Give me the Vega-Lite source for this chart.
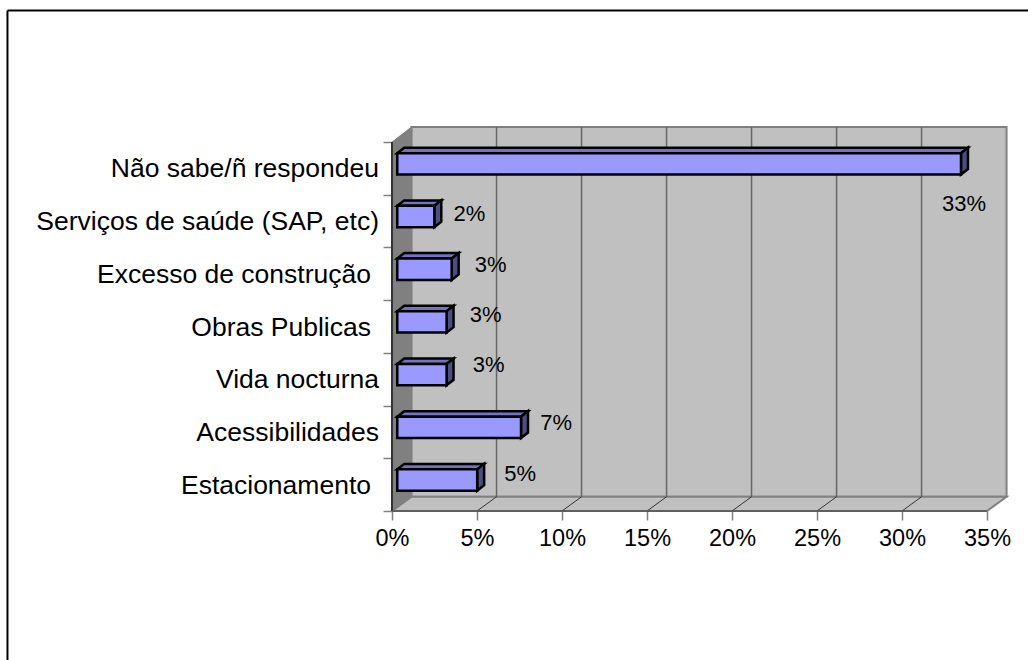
{
"$schema":"https://vega.github.io/schema/vega-lite/v6.json",
"width":615,"height":384,
"autosize":{"type":"none"},
"padding":{"left":392,"top":127,"right":21,"bottom":149},
"background":"white",
"config":{"view":{"stroke":null},"font":"Liberation Sans","text":{"font":"Liberation Sans"}},
"data":{"values":[
{"category":"Estacionamento","rank":0,"value":0.047},
{"category":"Acessibilidades","rank":1,"value":0.0728},
{"category":"Vida nocturna","rank":2,"value":0.029},
{"category":"Obras Publicas","rank":3,"value":0.029},
{"category":"Excesso de construção","rank":4,"value":0.032},
{"category":"Serviços de saúde (SAP, etc)","rank":5,"value":0.0218},
{"category":"Não sabe/ñ respondeu","rank":6,"value":0.3316}
]},
"encoding":{
"x":{"type":"quantitative","scale":{"domain":[0,0.36176],"nice":false,"zero":false},
"axis":{"values":[0,0.05,0.1,0.15,0.2,0.25,0.3,0.35],"format":".0%","title":null,"grid":false,"domain":false,"tickSize":9,"tickColor":"#808080","tickWidth":1.5,"labelFontSize":23.5,"labelFont":"Liberation Sans","labelColor":"#000000","labelPadding":6,"labelFlush":false,"labelOverlap":false}},
"y":{"type":"quantitative","scale":{"domain":[0,7.2865],"nice":false,"zero":false},
"axis":{"values":[0,1,2,3,4,5,6,7],"labels":false,"title":null,"grid":false,"domain":false,"tickSize":9,"tickColor":"#808080","tickWidth":1.5}}
},
"layer":[
{"data":{"values":[{}]},"mark":{"type":"rule","stroke":"#000000","strokeWidth":2},"encoding":{"x":{"datum":-0.2262},"x2":{"datum":0.385},"y":{"datum":9.497}}},
{"data":{"values":[{}]},"mark":{"type":"rule","stroke":"#000000","strokeWidth":2},"encoding":{"x":{"datum":-0.2262},"y":{"datum":9.497},"y2":{"datum":-3}}},
{"data":{"values":[{"x":0.0115,"x2":0.3615,"y":0.27,"y2":7.2865}]},"mark":{"type":"rect","fill":"#c0c0c0","stroke":"#808080","strokeWidth":2},"encoding":{"x":{"field":"x","type":"quantitative"},"x2":{"field":"x2"},"y":{"field":"y","type":"quantitative"},"y2":{"field":"y2"}}},
{"data":{"values":[{"x":0,"y":0,"y2":7},{"x":0.0115,"y":0.27,"y2":7.2865}]},"mark":{"type":"area","orient":"vertical","fill":"#808080","stroke":"#808080","strokeWidth":1},"encoding":{"x":{"field":"x","type":"quantitative"},"y":{"field":"y","type":"quantitative","stack":null},"y2":{"field":"y2"}}},
{"data":{"values":[{"x":0,"x2":0.35,"y":0},{"x":0.0115,"x2":0.3615,"y":0.27}]},"mark":{"type":"area","orient":"horizontal","fill":"#c0c0c0","stroke":"#808080","strokeWidth":2},"encoding":{"x":{"field":"x","type":"quantitative","stack":null},"x2":{"field":"x2"},"y":{"field":"y","type":"quantitative"}}},
{"data":{"values":[{"x":0.0615},{"x":0.1115},{"x":0.1615},{"x":0.2115},{"x":0.2615},{"x":0.3115}]},"mark":{"type":"rule","stroke":"#666666","strokeWidth":1.5},"encoding":{"x":{"field":"x","type":"quantitative"},"y":{"datum":0.27},"y2":{"datum":7.2865}}},
{"data":{"values":[
{"tick":5,"x":0.05,"y":0},{"tick":5,"x":0.0615,"y":0.27},
{"tick":10,"x":0.1,"y":0},{"tick":10,"x":0.1115,"y":0.27},
{"tick":15,"x":0.15,"y":0},{"tick":15,"x":0.1615,"y":0.27},
{"tick":20,"x":0.2,"y":0},{"tick":20,"x":0.2115,"y":0.27},
{"tick":25,"x":0.25,"y":0},{"tick":25,"x":0.2615,"y":0.27},
{"tick":30,"x":0.3,"y":0},{"tick":30,"x":0.3115,"y":0.27}
]},"mark":{"type":"line","stroke":"#333333","strokeWidth":1},"encoding":{"x":{"field":"x","type":"quantitative"},"y":{"field":"y","type":"quantitative"},"detail":{"field":"tick","type":"nominal"}}},
{"data":{"values":[{}]},"mark":{"type":"rule","stroke":"#333333","strokeWidth":2},"encoding":{"x":{"datum":0},"y":{"datum":0},"y2":{"datum":7}}},
{"data":{"values":[{}]},"mark":{"type":"rule","stroke":"#555555","strokeWidth":1.5},"encoding":{"x":{"datum":0},"x2":{"datum":0.35},"y":{"datum":0}}},
{"transform":[{"calculate":"[0,1]","as":"t"},{"flatten":["t"]},{"calculate":"0.0031+datum.t*0.0041","as":"px"},{"calculate":"0.0031+datum.value+datum.t*0.0041","as":"px2"},{"calculate":"datum.rank+0.79+datum.t*0.104","as":"py"}],
"mark":{"type":"area","orient":"horizontal","fill":"#7373bf","stroke":"#000000","strokeWidth":2.5,"strokeJoin":"miter"},
"encoding":{"x":{"field":"px","type":"quantitative","stack":null},"x2":{"field":"px2"},"y":{"field":"py","type":"quantitative"},"detail":{"field":"category","type":"nominal"}}},
{"transform":[{"calculate":"[0,1]","as":"t"},{"flatten":["t"]},{"calculate":"0.0031+datum.value+datum.t*0.0041","as":"px"},{"calculate":"datum.rank+0.385+datum.t*0.104","as":"py"},{"calculate":"datum.rank+0.79+datum.t*0.104","as":"py2"}],
"mark":{"type":"area","orient":"vertical","fill":"#4d4d80","stroke":"#000000","strokeWidth":2.5,"strokeJoin":"miter"},
"encoding":{"x":{"field":"px","type":"quantitative"},"y":{"field":"py","type":"quantitative","stack":null},"y2":{"field":"py2"},"detail":{"field":"category","type":"nominal"}}},
{"transform":[{"calculate":"0.0031","as":"px"},{"calculate":"0.0031+datum.value","as":"px2"},{"calculate":"datum.rank+0.385","as":"py"},{"calculate":"datum.rank+0.79","as":"py2"}],
"mark":{"type":"rect","fill":"#9999ff","stroke":"#000000","strokeWidth":2.5},
"encoding":{"x":{"field":"px","type":"quantitative"},"x2":{"field":"px2"},"y":{"field":"py","type":"quantitative"},"y2":{"field":"py2"}}},
{"transform":[{"filter":"datum.rank==1||datum.rank==2||datum.rank==5||datum.rank==6"},{"calculate":"datum.rank+0.5","as":"py"}],
"mark":{"type":"text","align":"right","baseline":"middle","fontSize":26.5,"font":"Liberation Sans","fill":"#000000","dx":-13,"dy":1},
"encoding":{"x":{"datum":0},"y":{"field":"py","type":"quantitative"},"text":{"field":"category"}}},
{"transform":[{"filter":"datum.rank==0||datum.rank==3||datum.rank==4"},{"calculate":"datum.rank+0.5","as":"py"}],
"mark":{"type":"text","align":"right","baseline":"middle","fontSize":26.5,"font":"Liberation Sans","fill":"#000000","dx":-21,"dy":1},
"encoding":{"x":{"datum":0},"y":{"field":"py","type":"quantitative"},"text":{"field":"category"}}},
{"transform":[{"filter":"datum.rank==0"},{"calculate":"0.0031+datum.value","as":"px"},{"calculate":"datum.rank+0.5875","as":"py"}],"mark":{"type":"text","align":"center","baseline":"middle","fontSize":22,"fill":"#000000","dx":43,"dy":-6},"encoding":{"x":{"field":"px","type":"quantitative"},"y":{"field":"py","type":"quantitative"},"text":{"field":"value","format":".0%"}}},
{"transform":[{"filter":"datum.rank==1"},{"calculate":"0.0031+datum.value","as":"px"},{"calculate":"datum.rank+0.5875","as":"py"}],"mark":{"type":"text","align":"center","baseline":"middle","fontSize":22,"fill":"#000000","dx":35,"dy":-4},"encoding":{"x":{"field":"px","type":"quantitative"},"y":{"field":"py","type":"quantitative"},"text":{"field":"value","format":".0%"}}},
{"transform":[{"filter":"datum.rank==2"},{"calculate":"0.0031+datum.value","as":"px"},{"calculate":"datum.rank+0.5875","as":"py"}],"mark":{"type":"text","align":"center","baseline":"middle","fontSize":22,"fill":"#000000","dx":42,"dy":-10},"encoding":{"x":{"field":"px","type":"quantitative"},"y":{"field":"py","type":"quantitative"},"text":{"field":"value","format":".0%"}}},
{"transform":[{"filter":"datum.rank==3"},{"calculate":"0.0031+datum.value","as":"px"},{"calculate":"datum.rank+0.5875","as":"py"}],"mark":{"type":"text","align":"center","baseline":"middle","fontSize":22,"fill":"#000000","dx":39,"dy":-7},"encoding":{"x":{"field":"px","type":"quantitative"},"y":{"field":"py","type":"quantitative"},"text":{"field":"value","format":".0%"}}},
{"transform":[{"filter":"datum.rank==4"},{"calculate":"0.0031+datum.value","as":"px"},{"calculate":"datum.rank+0.5875","as":"py"}],"mark":{"type":"text","align":"center","baseline":"middle","fontSize":22,"fill":"#000000","dx":39,"dy":-4},"encoding":{"x":{"field":"px","type":"quantitative"},"y":{"field":"py","type":"quantitative"},"text":{"field":"value","format":".0%"}}},
{"transform":[{"filter":"datum.rank==5"},{"calculate":"0.0031+datum.value","as":"px"},{"calculate":"datum.rank+0.5875","as":"py"}],"mark":{"type":"text","align":"center","baseline":"middle","fontSize":22,"fill":"#000000","dx":35,"dy":-3},"encoding":{"x":{"field":"px","type":"quantitative"},"y":{"field":"py","type":"quantitative"},"text":{"field":"value","format":".0%"}}},
{"transform":[{"filter":"datum.rank==6"},{"calculate":"0.0031+datum.value","as":"px"},{"calculate":"datum.rank+0.5875","as":"py"}],"mark":{"type":"text","align":"center","baseline":"middle","fontSize":22,"fill":"#000000","dx":3,"dy":40},"encoding":{"x":{"field":"px","type":"quantitative"},"y":{"field":"py","type":"quantitative"},"text":{"field":"value","format":".0%"}}}
]
}
